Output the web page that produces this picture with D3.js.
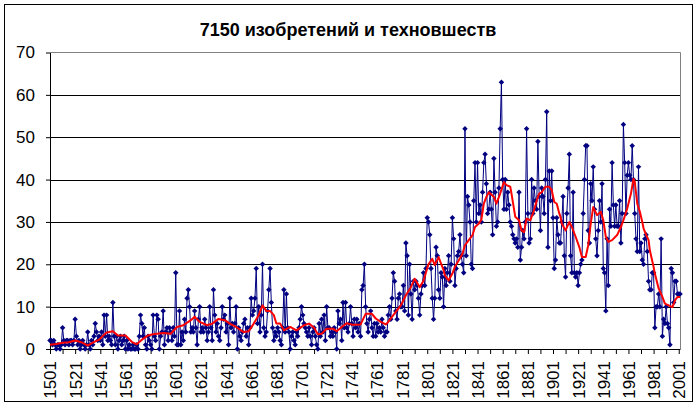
<!DOCTYPE html>
<html>
<head>
<meta charset="utf-8">
<script src="https://cdn.jsdelivr.net/npm/d3@7"></script>
<style>
  body { margin: 0; background: #fff; }
  svg { display: block; }
  text { font-family: Arial, "Liberation Sans", sans-serif; }
</style>
</head>
<body>
<div id="chart"></div>
<script>
// ---- data ----
var title = "7150 изобретений и техновшеств";
var firstYear = 1501;
var lastYear = 2002;
// one value per year, 1501 .. 2002 (ten per row)
var inventions = [
  2,2,1,2,1,0,1,1,0,1,
  5,2,1,2,2,1,2,2,1,2,
  7,3,1,2,0,1,2,1,0,1,
  4,1,0,2,1,3,6,4,2,3,
  2,4,1,8,3,8,2,3,2,1,
  11,3,1,3,0,2,3,1,2,3,
  0,2,0,1,0,0,1,0,0,1,
  0,3,8,6,3,5,1,0,3,2,
  1,0,8,3,2,8,7,0,3,4,
  9,1,4,5,2,5,4,2,5,3,
  18,1,1,9,1,4,2,7,4,12,
  14,10,4,5,4,9,5,1,7,10,
  4,5,4,7,5,2,4,10,5,2,
  14,8,4,6,3,2,5,10,7,8,
  4,6,1,12,5,6,4,6,10,0,
  5,3,2,4,6,7,3,5,1,5,
  12,8,9,12,19,6,10,4,8,20,
  5,3,4,9,14,19,11,5,2,4,
  3,5,4,2,1,5,14,4,13,5,
  4,0,3,4,2,1,4,3,5,7,
  10,8,6,5,4,3,5,3,1,4,
  5,3,1,0,6,3,7,4,8,2,
  10,5,5,3,4,3,5,4,0,9,
  6,7,2,11,5,11,5,4,6,10,
  6,3,7,5,7,4,6,3,14,15,
  20,10,6,4,7,9,5,3,6,3,
  6,4,5,4,7,5,3,4,4,8,
  10,7,12,18,16,9,7,12,13,10,
  10,15,9,25,22,8,20,13,7,16,
  14,16,15,12,8,13,15,18,15,19,
  31,30,27,19,12,7,12,24,22,14,
  12,18,17,10,19,15,18,22,16,20,
  31,26,15,19,22,23,27,22,20,18,
  52,22,36,34,30,20,19,35,44,30,
  44,32,34,30,37,44,46,39,32,33,
  37,33,27,45,37,29,30,38,52,63,
  40,33,40,33,37,34,30,29,27,26,
  25,26,24,37,21,24,28,26,30,52,
  32,25,26,40,32,38,35,33,49,36,
  28,38,36,32,40,56,24,42,35,42,
  31,19,21,31,27,25,25,30,36,22,
  17,32,38,46,22,18,37,18,17,18,
  15,18,20,21,32,40,48,48,28,25,
  39,35,43,33,26,22,28,35,30,39,
  19,18,9,26,15,33,29,44,34,29,
  34,29,29,35,25,32,53,44,32,41,
  44,41,40,48,40,32,26,23,43,23,
  25,21,20,26,27,23,16,14,14,18,
  18,5,10,10,13,10,26,3,7,6,
  10,6,5,1,19,18,11,16,16,13,
  13,13
];
// red moving-average line, read at these years
var trendYears = [
  1501,1506,1511,1516,1521,1526,1531,1535,1540,1542,1546,1551,1555,1561,1566,1570,
  1575,1579,1583,1586,1591,1597,1602,1607,1613,1616,1620,1626,1630,1635,1640,1644,
  1649,1655,1659,1663,1667,1670,1673,1676,1679,1681,1684,1687,1692,1697,1703,1707,
  1711,1714,1717,1721,1726,1729,1733,1737,1742,1748,1752,1757,1760,1764,1768,1770,
  1774,1780,1784,1788,1791,1795,1798,1802,1805,1807,1810,1814,1815,1818,1821,1823,
  1826,1829,1831,1834,1837,1839,1842,1844,1846,1848,1850,1854,1856,1859,1862,1864,
  1867,1868,1871,1874,1876,1878,1880,1883,1886,1888,1890,1892,1895,1898,1900,1902,
  1904,1906,1907,1908,1911,1914,1916,1919,1922,1924,1927,1929,1931,1933,1936,1939,
  1941,1943,1945,1948,1952,1955,1957,1960,1963,1965,1966,1968,1970,1972,1973,1975,
  1977,1978,1981,1982,1985,1988,1990,1993,1996,1998,2000,2002
];
var trendValues = [
  1,1.2,1.5,1.6,2,1.6,0.8,1.5,2.2,2.8,3.9,4.2,3.2,3.2,1.7,1.1,
  2.4,3.2,3.5,3.6,3.8,3.6,5.2,5.6,6.8,7.6,6.4,5.6,6,7.1,6.8,6,
  5.2,4,4.2,6,8,10.3,9,9,8,6,6,4.4,5.2,4.4,5.6,6,
  5,3.5,3.6,4.8,4.8,4.2,5.2,6.1,5.7,5.8,8.3,8.3,7.2,6.4,5.8,6.4,
  8,10.3,12.7,14.6,16.6,14.6,16.1,20,21.3,19.8,21.7,18.6,17.4,16.2,17.8,19.4,
  20.9,22.5,24.5,25.7,26.9,28.8,29.6,30.5,34.3,35.9,37,35.9,34.3,36.7,39.4,38.7,
  38.3,36.7,31.2,30.4,28,27.6,30.8,30.4,32.8,35,36.7,37,38.3,38.3,37.5,34.7,
  34.3,32,31.2,29.6,28,30,28.8,26.5,24,21.7,21.7,24.5,29.6,33.5,31.6,32.4,
  30.4,26.5,25.3,25.7,26.9,28.8,30.4,33.1,36.7,40.2,39.5,34.3,32.5,30,28.5,27,
  25.7,23.3,19.4,17.8,14.3,12.3,10.7,10.3,9.9,11.5,12.3,12.3
];
var yTicks = [0, 10, 20, 30, 40, 50, 60, 70];
var xTicks = d3.range(1501, 2002, 10);
var xLabels = d3.range(1501, 2002, 20);

// ---- layout ----
var W = 697, H = 410;
var plot = {left: 50, right: 680, top: 52.5, bottom: 349};

var years = d3.range(firstYear, lastYear + 1);
var points = years.map(function(y, i) { return {year: y, value: inventions[i]}; });
var trend = trendYears.map(function(y, i) { return {year: y, value: trendValues[i]}; });

var x = d3.scaleLinear().domain([firstYear, lastYear]).range([plot.left, plot.right]);
var y = d3.scaleLinear().domain([0, 70]).range([plot.bottom, plot.top]);

var svg = d3.select("#chart").append("svg")
    .attr("width", W)
    .attr("height", H);

svg.append("rect")
    .attr("width", W).attr("height", H)
    .attr("fill", "#fff");

// outer chart border
svg.append("rect")
    .attr("x", 4.5).attr("y", 4.5)
    .attr("width", 688).attr("height", 397)
    .attr("fill", "none")
    .attr("stroke", "#000");

// title
svg.append("text")
    .attr("x", 348).attr("y", 36)
    .attr("text-anchor", "middle")
    .style("font-size", "18px")
    .style("font-weight", "bold")
    .text(title);

// horizontal gridlines
svg.append("g").selectAll("line")
    .data(yTicks.filter(function(d) { return d > 0 && d < 70; }))
    .enter().append("line")
      .attr("x1", plot.left).attr("x2", plot.right)
      .attr("y1", function(d) { return Math.round(y(d)) + 0.5; })
      .attr("y2", function(d) { return Math.round(y(d)) + 0.5; })
      .attr("stroke", "#000");

// plot area border (grey, top and right)
svg.append("path")
    .attr("d", "M" + plot.left + "," + plot.top + "H" + (plot.right + 0.5) + "V" + plot.bottom)
    .attr("fill", "none")
    .attr("stroke", "#808080");

// y axis
var yAxis = svg.append("g")
    .attr("transform", "translate(" + plot.left + ",0)")
    .call(d3.axisLeft(y).tickValues(yTicks).tickSize(4).tickPadding(11).tickSizeOuter(0));
yAxis.selectAll("text").style("font-size", "17px").attr("fill", "#000");
yAxis.selectAll("path, line").attr("stroke", "#000");

// x axis
var xAxis = svg.append("g")
    .attr("transform", "translate(0," + plot.bottom + ")")
    .call(d3.axisBottom(x).tickValues(xTicks).tickSize(5).tickSizeOuter(0)
      .tickFormat(function(d) { return xLabels.indexOf(d) >= 0 ? d : ""; }));
xAxis.selectAll("text")
    .style("font-size", "17px")
    .attr("fill", "#000")
    .attr("text-anchor", "end")
    .attr("transform", "rotate(-90)")
    .attr("x", -12)
    .attr("y", 0)
    .attr("dy", "0.35em");
xAxis.selectAll("path, line").attr("stroke", "#000");

// blue series
var line = d3.line()
    .x(function(d) { return x(d.year); })
    .y(function(d) { return y(d.value); });

svg.append("path")
    .datum(points)
    .attr("fill", "none")
    .attr("stroke", "#000080")
    .attr("stroke-width", 1)
    .attr("d", line);

var diamond = d3.symbol().type(d3.symbolSquare).size(15);
svg.append("g").selectAll("path")
    .data(points)
    .enter().append("path")
      .attr("d", diamond)
      .attr("transform", function(d) { return "translate(" + x(d.year) + "," + y(d.value) + ") rotate(45)"; })
      .attr("fill", "#000080");

// red trend line
svg.append("path")
    .datum(trend)
    .attr("fill", "none")
    .attr("stroke", "#ff0000")
    .attr("stroke-width", 2)
    .attr("stroke-linejoin", "round")
    .attr("d", line);
</script>
</body>
</html>
